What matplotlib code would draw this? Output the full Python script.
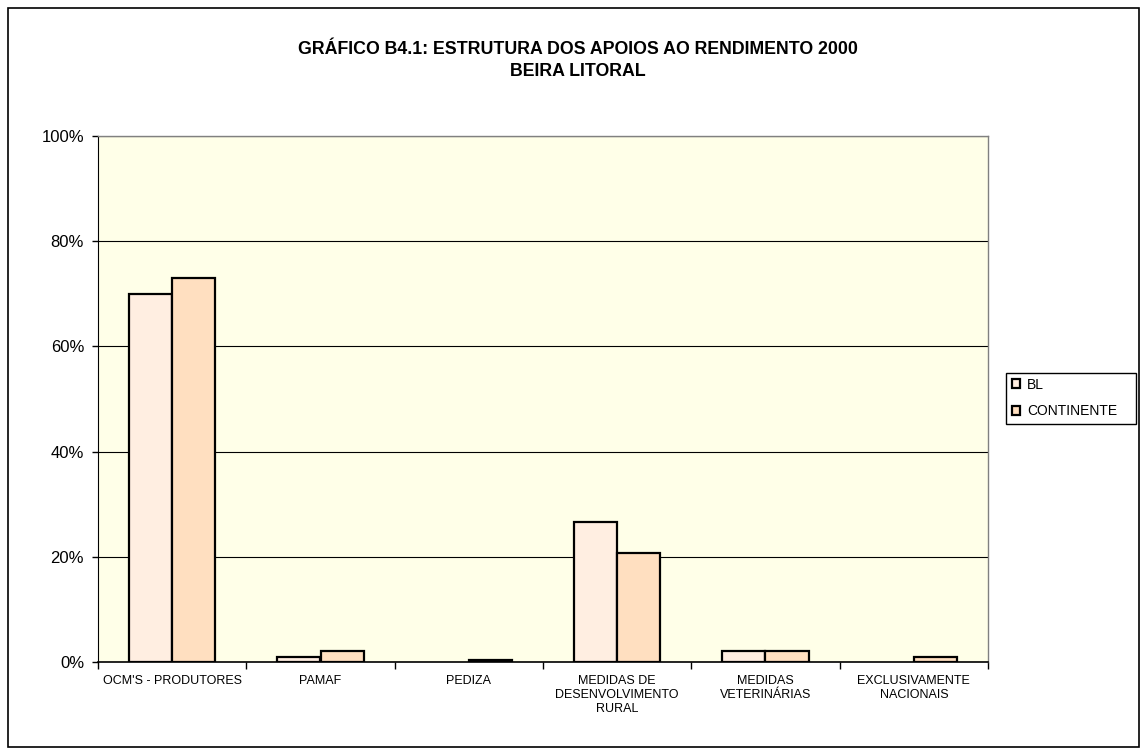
import matplotlib
matplotlib.use("Agg")
import matplotlib.pyplot as plt
from matplotlib.patches import Rectangle
import numpy as np

categories = ["OCM'S - PRODUTORES", "PAMAF", "PEDIZA",
              "MEDIDAS DE\nDESENVOLVIMENTO\nRURAL", "MEDIDAS\nVETERINÁRIAS",
              "EXCLUSIVAMENTE\nNACIONAIS"]
bl = [70.0, 1.0, 0.0, 26.6, 2.1, 0.0]
continente = [73.0, 2.1, 0.4, 20.7, 2.1, 1.0]
yticks = [0, 20, 40, 60, 80, 100]

plt.rcParams['font.family'] = ['Liberation Sans', 'DejaVu Sans']

W, H = 1140, 749
fig = plt.figure(figsize=(W / 100, H / 100), dpi=100)
fig.patch.set_facecolor('white')

# chart-area frame
fig.add_artist(Rectangle((8 / W, 1 - 747 / H), 1131 / W, 739 / H, transform=fig.transFigure,
                         fill=False, edgecolor='black', linewidth=1.2))

ax = fig.add_axes([98 / W, 1 - 662 / H, 890 / W, 526 / H])
ax.set_facecolor('#FFFFE8')

x = np.arange(len(categories))
w = 0.29
b1 = ax.bar(x - w / 2, bl, width=w, color='#FFEEE1', edgecolor='black', linewidth=1.6,
            label='BL', zorder=3)
b2 = ax.bar(x + w / 2, continente, width=w, color='#FFDFC0', edgecolor='black', linewidth=1.6,
            label='CONTINENTE', zorder=3)
for p in list(b1) + list(b2):
    if p.get_height() == 0:
        p.set_visible(False)

ax.set_xlim(-0.5, len(categories) - 0.5)
ax.set_ylim(0, 100)
ax.set_yticks(yticks)
ax.set_yticklabels([f"{v}%" for v in yticks], fontsize=12)
ax.yaxis.grid(True, color='black', linewidth=0.8, zorder=0)
ax.set_axisbelow(True)

ax.set_xticks(x)
ax.set_xticklabels(categories, fontsize=9, linespacing=1.25)
ax.tick_params(axis='x', length=0, pad=9)
ax.set_xticks(np.arange(-0.5, len(categories)), minor=True)
ax.tick_params(axis='x', which='minor', length=5, color='black', width=1)
ax.tick_params(axis='y', length=4.5, color='black', width=1, pad=5.5)

for s in ['top', 'right']:
    ax.spines[s].set_color('#808080')
    ax.spines[s].set_linewidth(1.0)
ax.spines['left'].set_color('black')
ax.spines['bottom'].set_color('black')
ax.spines['bottom'].set_linewidth(1.2)

fig.text(578 / W, 1 - 49 / H, "GRÁFICO B4.1: ESTRUTURA DOS APOIOS AO RENDIMENTO 2000",
         ha='center', va='center', fontsize=12.8, fontweight='bold')
fig.text(578 / W, 1 - 71 / H, "BEIRA LITORAL",
         ha='center', va='center', fontsize=12.8, fontweight='bold')

# legend
fig.add_artist(Rectangle((1006 / W, 1 - 424 / H), 130 / W, 51 / H, transform=fig.transFigure,
                         fill=True, facecolor='white', edgecolor='black', linewidth=1.0))
leg = fig.legend(loc='center left', bbox_to_anchor=(1012 / W, 1 - 398 / H),
                 fontsize=10, frameon=False,
                 handlelength=0.6, handleheight=0.6, handletextpad=0.5,
                 borderpad=0, labelspacing=0.9, borderaxespad=0)

fig.savefig('out.png', dpi=100)
